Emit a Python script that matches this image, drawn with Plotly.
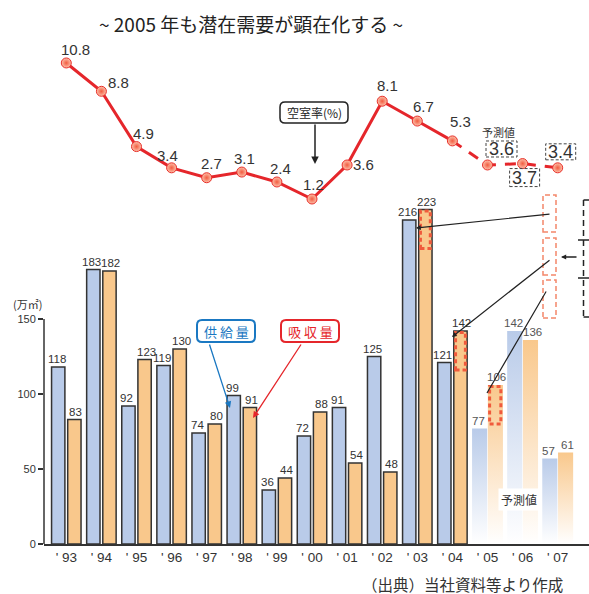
import plotly.graph_objects as go

# ---- data ----
years = ["' 93", "' 94", "' 95", "' 96", "' 97", "' 98", "' 99", "' 00",
         "' 01", "' 02", "' 03", "' 04", "' 05", "' 06", "' 07"]
supply = [118, 183, 92, 119, 74, 99, 36, 72, 91, 125, 216, 121, 77, 142, 57]
absorption = [83, 182, 123, 130, 80, 91, 44, 88, 54, 48, 223, 142, 106, 136, 61]
vacancy = [10.8, 8.8, 4.9, 3.4, 2.7, 3.1, 2.4, 1.2, 3.6, 8.1, 6.7, 5.3, 3.6, 3.7, 3.4]
n_actual = 12                       # '93-'04 actual, '05-'07 forecast
latent_idx = [10, 11, 12]           # years whose absorption includes latent demand
latent_amount = [26, 26, 26]
y_ticks = [0, 50, 100, 150]

# ---- styling ----
W, H = 589, 594
ML, MB = 44, 50
PW, PH = W - ML, H - MB
STEP = 35.1                 # px per year
X0PX = 66.3                 # px of first year centre
BLUE = "#b9cbe9"
ORANGE = "#f9c88c"
EDGE = "#333333"
RED = "#e5262b"
TXT = "#333333"
NUM_FONT = "Liberation Sans, Arial, sans-serif"
JP_FONT = "Noto Sans CJK JP, sans-serif"
BAR_W = 0.38
FW = 0.43


def px(x):
    return (x - ML) / PW


def py(y):
    return (PH - y) / PH


fig = go.Figure()
annotations = []
shapes = []


def bar_label(xc, val, shift, color=TXT):
    return dict(x=xc, y=val, xref="x", yref="y", text=str(val), showarrow=False,
                xanchor="center", yanchor="bottom", xshift=shift, yshift=0,
                font=dict(family=NUM_FONT, size=11.5, color=color))


# actual bars
act = list(range(n_actual))
for vals, col, off, sh in ((supply, BLUE, -0.42, -1.5), (absorption, ORANGE, 0.04, 1.5)):
    fig.add_trace(go.Bar(
        x=act, y=vals[:n_actual], width=BAR_W, offset=off,
        marker=dict(color=col, line=dict(color=EDGE, width=1.5)),
        hoverinfo="skip"))
    for i in act:
        annotations.append(bar_label(i + off + BAR_W / 2, vals[i], sh))

# forecast bars: fading fill, no outline
for j in range(n_actual, len(years)):
    for val, col, left, sh in ((supply[j], BLUE, j - FW - 0.01, -1.5),
                               (absorption[j], ORANGE, j + 0.01, 1.5)):
        xs = [left, left + FW, left + FW, left, left]
        ys = [0, 0, val, val, 0]
        fig.add_trace(go.Scatter(
            x=xs, y=ys, mode="lines", fill="toself", line=dict(width=0),
            fillgradient=dict(type="vertical", start=0, stop=val,
                              colorscale=[[0, "rgba(255,255,255,1)"], [1, col]]),
            hoverinfo="skip", showlegend=False))
        annotations.append(bar_label(left + FW / 2, val, sh, "#555"))

# latent-demand dotted frames inside absorption bars
for j, amt in zip(latent_idx, latent_amount):
    if j < n_actual:
        l, r = j + 0.04 + 0.05, j + 0.04 + BAR_W - 0.05
    else:
        l, r = j + 0.01 + 0.05, j + 0.01 + FW - 0.06
    shapes.append(dict(type="rect", xref="x", yref="y", x0=l, x1=r,
                       y0=absorption[j] - amt, y1=absorption[j] - 1,
                       line=dict(color="#f05a3c", width=3, dash="4px,3px")))

# vacancy rate line
fig.add_trace(go.Scatter(
    x=list(range(n_actual)), y=vacancy[:n_actual], yaxis="y2", mode="lines",
    line=dict(color=RED, width=3), hoverinfo="skip", showlegend=False))
fig.add_trace(go.Scatter(
    x=list(range(n_actual - 1, len(years))), y=vacancy[n_actual - 1:], yaxis="y2",
    mode="lines", line=dict(color=RED, width=3, dash="11px,9px"),
    hoverinfo="skip", showlegend=False))
fig.add_trace(go.Scatter(
    x=list(range(len(years))), y=vacancy, yaxis="y2", mode="markers",
    marker=dict(size=10, color="#fdc2ac", gradient=dict(type="radial", color="#f25c40"),
                line=dict(color="#e8302a", width=1)),
    hoverinfo="skip", showlegend=False, cliponaxis=False))

# label offsets (px, screen direction) for the actual rates
offs = [(9, -13), (17, -9), (7, -13), (-4, -12), (5, -14), (3, -14), (4, -13),
        (1, -15), (16, 0), (5, -16), (6, -15), (8, -19)]
for i in range(n_actual):
    dx, dy = offs[i]
    annotations.append(dict(x=i, y=vacancy[i], xref="x", yref="y2", xshift=dx, yshift=-dy,
                            xanchor="center", yanchor="middle",
                            text=f"{vacancy[i]:.1f}", showarrow=False,
                            font=dict(family=NUM_FONT, size=15, color=TXT)))
# forecast rates in dashed boxes
fc = list(range(n_actual, len(years)))
fc_offs = [(14, -16, 31, 16), (2, 14, 30, 18), (3, -16, 30, 16)]
for k, j in enumerate(fc):
    dx, dy, bw, bh = fc_offs[k]
    annotations.append(dict(x=j, y=vacancy[j], xref="x", yref="y2", xshift=dx, yshift=-dy,
                            xanchor="center", yanchor="middle",
                            text=f"{vacancy[j]:.1f}", showarrow=False,
                            font=dict(family=NUM_FONT, size=18, color=TXT)))
    shapes.append(dict(type="rect", xref="x", yref="y2", xsizemode="pixel", ysizemode="pixel",
                       xanchor=j, yanchor=vacancy[j],
                       x0=dx - bw / 2, x1=dx + bw / 2, y0=-dy - bh / 2, y1=-dy + bh / 2,
                       line=dict(color="#444", width=1, dash="3px,2px"),
                       fillcolor="rgba(255,255,255,0)"))

# y-axis line (only up to 150)
shapes.append(dict(type="line", xref="paper", yref="y", x0=0, x1=0, y0=0, y1=150,
                   line=dict(color=EDGE, width=1.5)))


def rounded_box(x0, y0, x1, y1, r, color, width):
    a, b, c, d = px(x0), py(y0), px(x1), py(y1)
    rx, ry = r / PW, r / PH
    path = (f"M {a+rx},{b} L {c-rx},{b} Q {c},{b} {c},{b-ry} L {c},{d+ry} "
            f"Q {c},{d} {c-rx},{d} L {a+rx},{d} Q {a},{d} {a},{d+ry} "
            f"L {a},{b-ry} Q {a},{b} {a+rx},{b} Z")
    return dict(type="path", xref="paper", yref="paper", path=path,
                line=dict(color=color, width=width), fillcolor="white", layer="above")


def arrow(x_tail, y_tail, x_tip, y_tip, color, head=2, width=1.2, size=1):
    return dict(x=px(x_tip), y=py(y_tip), xref="paper", yref="paper",
                ax=x_tail - x_tip, ay=y_tail - y_tip, text="", showarrow=True,
                arrowhead=head, arrowsize=size, arrowwidth=width, arrowcolor=color)


def label(x, y, text, size, color=TXT, **kw):
    return dict(x=px(x), y=py(y), xref="paper", yref="paper", text=text, showarrow=False,
                xanchor="center", yanchor="middle",
                font=dict(family=JP_FONT, size=size, color=color), **kw)


# callouts
shapes.append(rounded_box(280, 102, 348, 123, 5, "#222", 1.5))
annotations.append(label(314, 112.5, "空室率(%)", 12, "#222"))
annotations.append(arrow(315, 123, 315, 164, "#222", head=2, width=1.5))

shapes.append(rounded_box(197, 320, 255, 342, 5, "#1a78c2", 2))
annotations.append(label(226, 331, "供 給 量", 13, "#1a78c2"))
annotations.append(arrow(209, 343, 230, 408, "#1a78c2", head=2, width=1.3))

shapes.append(rounded_box(281, 320, 339, 342, 5, "#e5262b", 2))
annotations.append(label(310, 331, "吸 収 量", 13, "#e5262b"))
annotations.append(arrow(302, 343, 253, 418, "#e5262b", head=2, width=1.3))

# latent demand boxes on the right with leaders
for (t, b) in ((195, 232), (238, 275), (280, 318)):
    shapes.append(dict(type="rect", xref="paper", yref="paper", x0=px(543), x1=px(556),
                       y0=py(b), y1=py(t), line=dict(color="#f4876a", width=1.5, dash="5px,3px")))
annotations.append(arrow(551, 214, 416, 228, "#222", head=2, width=1.2, size=0.8))
annotations.append(arrow(551, 259, 452, 337, "#222", head=2, width=1.2, size=0.8))
annotations.append(arrow(547, 290, 487, 393, "#222", head=0, width=1.2))
# dashed bracket at right edge
bx = 583.5
shapes.append(dict(type="line", xref="paper", yref="paper", x0=px(bx), x1=px(bx),
                   y0=py(200), y1=py(317), line=dict(color="#222", width=1.5, dash="6px,4px")))
for yy, l in ((200, bx), (240, 578), (278, 578), (317, bx)):
    shapes.append(dict(type="line", xref="paper", yref="paper", x0=px(l), x1=px(589),
                       y0=py(yy), y1=py(yy), line=dict(color="#222", width=1.5)))
annotations.append(arrow(578, 257, 561, 257, "#222", head=2, width=1.3, size=0.8))

# text labels
annotations.append(label(498, 132, "予測値", 11))
annotations.append(label(519, 499, "予測値", 12, bgcolor="white", borderpad=2))
annotations.append(label(27, 304, "(万㎡)", 11))
annotations.append(label(251, 24, "~ 2005 年も潜在需要が顕在化する ~", 19, "#222"))
annotations.append(label(462, 584, "（出典）当社資料等より作成", 15.5))

x_lo = (ML - X0PX) / STEP
x_hi = (W - X0PX) / STEP
VPX = 14.17      # px per vacancy-rate unit
V0PY = 216       # px of 0 % on the rate scale

fig.update_layout(
    width=W, height=H, margin=dict(l=ML, r=0, t=0, b=MB),
    paper_bgcolor="white", plot_bgcolor="white", showlegend=False,
    barmode="overlay",
    xaxis=dict(range=[x_lo, x_hi], tickmode="array", tickvals=list(range(len(years))),
               ticktext=years, showline=True, linecolor=EDGE, linewidth=1.5,
               showgrid=False, zeroline=False, ticks="",
               tickfont=dict(family=NUM_FONT, size=13.5, color=TXT), fixedrange=True),
    yaxis=dict(range=[0, PH / 1.5], tickmode="array", tickvals=y_ticks,
               showline=False, showgrid=False, zeroline=False, ticks="outside",
               ticklen=5, tickwidth=1.5, tickcolor=EDGE,
               tickfont=dict(family=NUM_FONT, size=11, color=TXT), fixedrange=True),
    yaxis2=dict(range=[-(PH - V0PY) / VPX, V0PY / VPX], overlaying="y", visible=False,
                fixedrange=True),
    shapes=shapes, annotations=annotations,
)

fig.write_html("out.html")
